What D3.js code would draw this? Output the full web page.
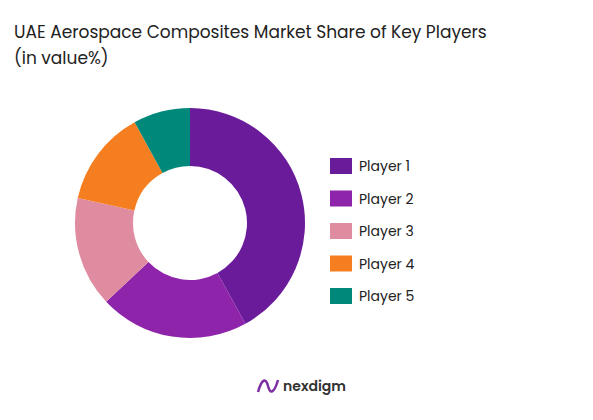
<!DOCTYPE html>
<html><head><meta charset="utf-8">
<script src="https://cdn.jsdelivr.net/npm/d3@7"></script>
<style>body{margin:0;background:#fff;font-family:Poppins,"Open Sans","Noto Sans",sans-serif}</style>
</head><body><svg id="c" width="593" height="420"></svg>
<script>
const categories=["Player 1","Player 2","Player 3","Player 4","Player 5"];
const values=[42,21,15.5,13.5,8];
const colors=["#6a1b9a","#8e24aa","#e08ca0","#f57f20","#00897b"];
const svg=d3.select("#c");
svg.append("text").attr("x",14).attr("y",38).attr("font-size",17).attr("fill","#222").text(" UAE Aerospace Composites Market Share of Key Players");
svg.append("text").attr("x",14).attr("y",64).attr("font-size",17).attr("fill","#222").text("(in value%)");
const pie=d3.pie().sort(null)(values);
const arc=d3.arc().innerRadius(57).outerRadius(115);
const g=svg.append("g").attr("transform","translate(190,223)");
g.selectAll("path").data(pie).join("path").attr("d",arc).attr("fill",(d,i)=>colors[i]);
const y=d3.scalePoint().domain(categories).range([166,296]);
const lg=svg.append("g");
lg.selectAll("rect").data(categories).join("rect").attr("x",330).attr("y",d=>y(d)-8).attr("width",22).attr("height",16).attr("fill",(d,i)=>colors[i]);
lg.selectAll("text").data(categories).join("text").attr("x",359).attr("y",d=>y(d)+5).attr("font-size",14).attr("fill","#222").text(d=>d);
svg.append("path").attr("d","M258,392 C262,378 266,378 268,386 C270,394 274,394 278,380").attr("fill","none").attr("stroke","#7b2fa0").attr("stroke-width",2.5);
svg.append("text").attr("x",283).attr("y",391).attr("font-size",14).attr("font-weight",600).attr("fill","#333").text("nexdigm");
</script></body></html>
